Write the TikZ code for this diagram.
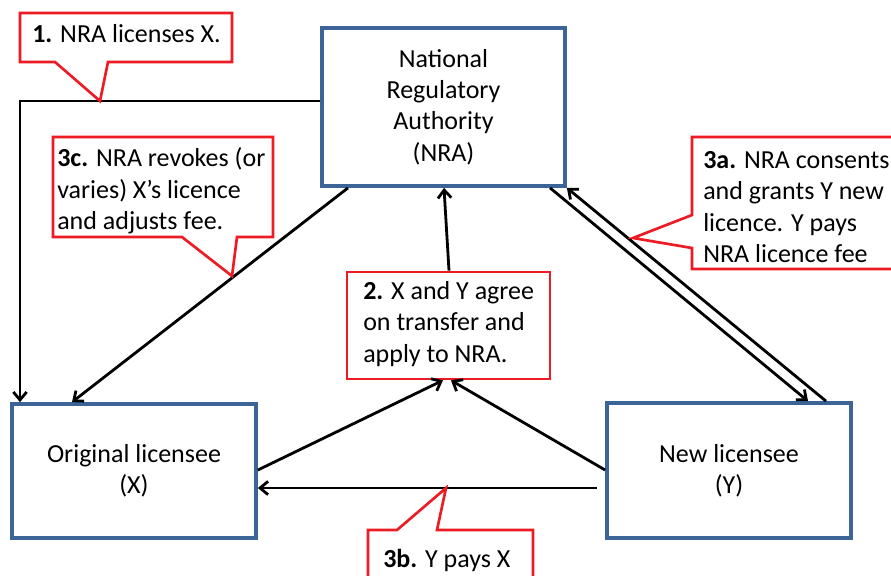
\documentclass[tikz,border=0pt]{standalone}
\usepackage{fontspec}
\setmainfont{Carlito}
\usetikzlibrary{arrows.meta,calc}
\definecolor{boxblue}{RGB}{60,100,150}
\definecolor{callred}{RGB}{237,28,36}
\begin{document}
\begin{tikzpicture}[x=0.75pt,y=-0.75pt,
  every node/.style={font=\fontsize{19.5}{23.6}\selectfont},
  box/.style={draw=boxblue,line width=2.8pt,fill=white,inner sep=0pt,align=center},
  callout/.style={draw=callred,line width=2pt,fill=white,line join=miter},
  arr/.style={line width=2.1pt,-{Straight Barb[length=6pt,width=10pt,line width=2.1pt]}},
  lbl/.style={inner sep=0pt,align=left}]
\useasboundingbox (0,0) rectangle (891,575);
\clip (0,0) rectangle (891,575);
\fill[white] (0,0) rectangle (891,575);

% main boxes
\node[box,minimum width=243*0.75pt,minimum height=158*0.75pt] (nra) at (443.5,107) {National\\Regulatory\\Authority\\(NRA)};
\node[box,minimum width=244*0.75pt,minimum height=134*0.75pt] (x) at (134,471) {Original licensee\\(X)};
\node[box,minimum width=244*0.75pt,minimum height=135*0.75pt] (y) at (729,470.5) {New licensee\\(Y)};
\node[draw=callred,line width=2pt,fill=white,inner sep=0pt,minimum width=203*0.75pt,minimum height=107*0.75pt] (c2) at (448.5,325.5) {};

% connectors
\draw[arr] (nra.west |- 0,101) -| (x.north -| 20,0);
\draw[arr] (nra.south -| 348,0) -- (x.north -| 72,0);
\draw[arr] (c2.north -| 449,0) -- (nra.south -| 444,0);
\draw[arr] (x.east |- 0,470) -- (c2.south -| 443,0);
\draw[arr] (y.west |- 0,470) -- (c2.south -| 451,0);
\draw[arr,shorten <=6pt] (y.west |- 0,488) -- (x.east |- 0,488);
\draw[arr] (nra.south -| 550,0) -- (y.north -| 808,0);
\draw[arr] (y.north -| 826,0) -- (nra.south east);

% callouts
\draw[callout] (20,13) -- (232,13) -- (232,62) -- (108,62) -- (100,101) -- (55,62) -- (20,62) -- cycle;
\draw[callout] (53,137) -- (273,137) -- (273,237) -- (237,237) -- (232,276) -- (182,237) -- (53,237) -- cycle;
\draw[callout] (692,137) -- (905,137) -- (905,269) -- (692,269) -- (692,248) -- (633,238) -- (692,215) -- cycle;
\draw[callout] (368,530) -- (397,530) -- (446,488) -- (437,530) -- (533,530) -- (533,600) -- (368,600) -- cycle;

% callout texts
\node[lbl,anchor=base west] (t1) at (32,42) {\textbf{1.} NRA licenses X.};
\node[lbl,anchor=west] (t3c) at (57,191) {\textbf{3c.} NRA revokes (or\\varies) X’s licence\\and adjusts fee.};
\node[lbl,anchor=west] (t3a) at (703,207) {\textbf{3a.} NRA consents\\and grants Y new\\licence. Y pays\\NRA licence fee};
\node[lbl,anchor=west] (t2) at (363,324) {\textbf{2.} X and Y agree\\on transfer and\\apply to NRA.};
\node[lbl,anchor=base west] (t3b) at (383,567) {\textbf{3b.} Y pays X};
\end{tikzpicture}
\end{document}
